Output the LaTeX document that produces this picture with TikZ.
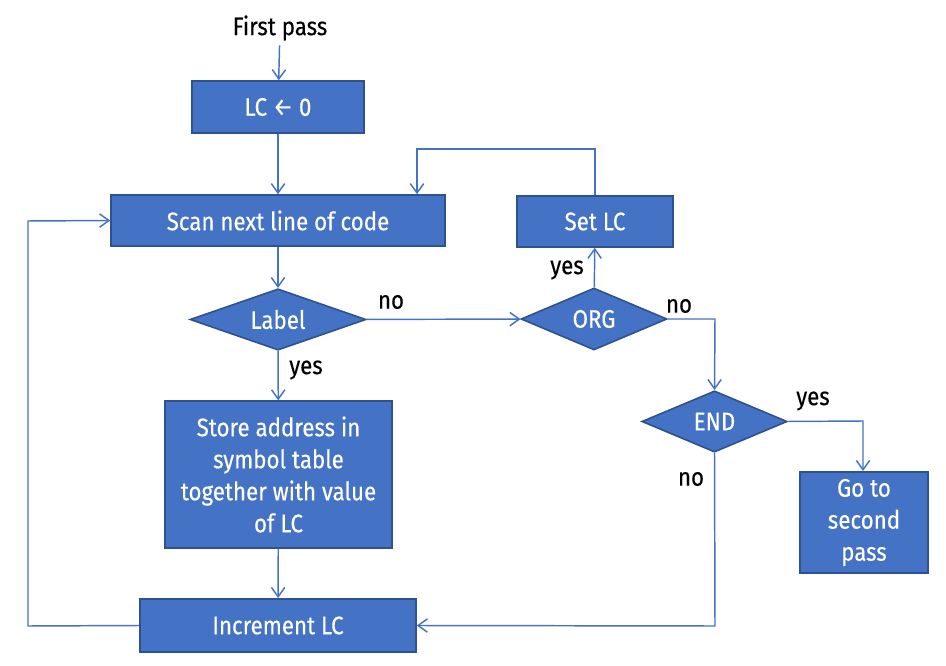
\documentclass[tikz,border=0pt]{standalone}
\usepackage{fontspec}
\setmainfont{Fira Sans}[FakeStretch=0.88,FakeBold=0.3]
\usepackage{tikz}
\usepackage{xcolor}
\usetikzlibrary{positioning,shapes.geometric,arrows.meta}

\definecolor{boxblue}{HTML}{4472C4}
\definecolor{boxedge}{HTML}{2F528F}

\begin{document}
\begin{tikzpicture}[x=0.75pt,y=-0.75pt,font=\fontsize{19}{24}\selectfont]
\useasboundingbox (0,0) rectangle (946,666);
\tikzstyle{box}=[draw=boxedge,fill=boxblue,text=white,line width=1.2pt,align=center,inner sep=2pt]
\tikzstyle{choice}=[diamond,aspect=2.9,draw=boxedge,fill=boxblue,text=white,line width=1.2pt,inner sep=0pt]
\tikzstyle{flow}=[draw=boxblue,line width=1.1pt,-{Straight Barb[length=7pt,width=10pt]}]

\node (start) at (280,28) {First pass};
\node[box,minimum width=129pt,minimum height=39pt] (lc) at (278,107) {LC ← 0};
\node[box,minimum width=250.5pt,minimum height=38.25pt] (scan) at (278,220.5) {Scan next line of code};
\node[choice,minimum width=132pt,minimum height=46pt] (label) at (278,319.5) {Label};
\node[box,minimum width=170pt,minimum height=110pt] (store) at (278.5,474.5) {Store address in\\symbol table\\together with value\\of LC};
\node[box,minimum width=207pt,minimum height=40pt] (inc) at (278,625.5) {Increment LC};
\node[choice,minimum width=109.5pt,minimum height=46.5pt] (org) at (594,319) {ORG};
\node[box,minimum width=117pt,minimum height=38.25pt] (setlc) at (595,221.5) {Set LC};
\node[choice,minimum width=109pt,minimum height=46pt] (end) at (714.5,421.5) {END};
\node[box,minimum width=96pt,minimum height=76pt] (go) at (864,522.5) {Go to\\second\\pass};

\node (no1) at (391,302) {no};
\node (yes1) at (306,370) {yes};
\node (yes2) at (567,270) {yes};
\node (no2) at (679,306) {no};
\node (yes3) at (813,401) {yes};
\node (no3) at (691,479) {no};

\coordinate (c1) at (595,149);
\coordinate (c2) at (417,149);
\coordinate (c3) at (715,319);
\coordinate (c4) at (863,421);
\coordinate (c5) at (715,626);
\coordinate (c6) at (28,626);
\coordinate (c7) at (28,221);

\draw[flow] (start) -- (lc);
\draw[flow] (lc) -- (scan);
\draw[flow] (scan) -- (label);
\draw[flow] (label) -- (store);
\draw[flow] (store) -- (inc);
\draw[flow] (label) -- (org);
\draw[flow] (org) -- (setlc);
\draw[flow] (setlc.north) -- (c1) -- (c2) -- (c2 |- scan.north);
\draw[flow] (org.east) -- (c3) -- (end.north);
\draw[flow] (end.east) -- (c4) -- (c4 |- go.north);
\draw[flow] (end.south) -- (c5) -- (inc.east);
\draw[flow] (inc.west) -- (c6) -- (c7) -- (scan.west);
\end{tikzpicture}
\end{document}
